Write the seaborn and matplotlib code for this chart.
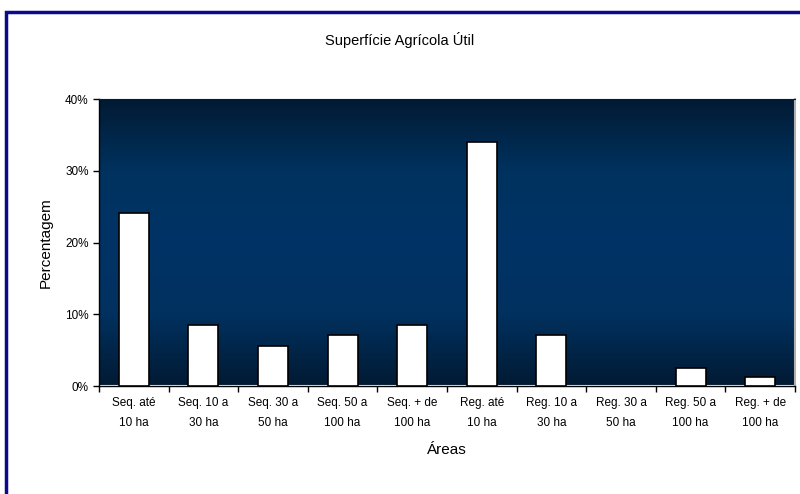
import matplotlib
matplotlib.use('Agg')
import matplotlib.pyplot as plt
import numpy as np
import pandas as pd
import seaborn as sns
from matplotlib.colors import LinearSegmentedColormap
from matplotlib.patches import Rectangle
from matplotlib.ticker import FixedLocator, PercentFormatter

areas = [
    'Seq. até\n10 ha', 'Seq. 10 a\n30 ha', 'Seq. 30 a\n50 ha', 'Seq. 50 a\n100 ha',
    'Seq. + de\n100 ha', 'Reg. até\n10 ha', 'Reg. 10 a\n30 ha', 'Reg. 30 a\n50 ha',
    'Reg. 50 a\n100 ha', 'Reg. + de\n100 ha',
]
percent = [24.1, 8.5, 5.6, 7.1, 8.5, 34.0, 7.1, 0.0, 2.5, 1.25]

df = pd.DataFrame({'area': areas, 'pct': percent})

sns.set_style('white')
plt.rcParams['font.family'] = ['Liberation Sans', 'DejaVu Sans']
plt.rcParams['text.color'] = 'black'
plt.rcParams['axes.labelcolor'] = 'black'
plt.rcParams['xtick.color'] = 'black'
plt.rcParams['ytick.color'] = 'black'

fig = plt.figure(figsize=(8, 4.94), dpi=100)
ax = fig.add_axes([99 / 800, 108 / 494, 696 / 800, 287 / 494])

# background gradient: dark at top and bottom, lighter blue in the middle
cmap = LinearSegmentedColormap.from_list(
    'bg', ['#021a33', '#00325f', '#003366', '#00315f', '#021a33'])
grad = np.linspace(0, 1, 256).reshape(-1, 1)
ax.imshow(grad, aspect='auto', cmap=cmap, extent=(-0.5, 9.5, 0, 40),
          origin='upper', zorder=0)

sns.barplot(data=df, x='area', y='pct', color='white', edgecolor='black',
            linewidth=1.2, width=0.43, saturation=1, ax=ax, zorder=3)
# a zero-height bar leaves no visible mark in the original
for patch, v in zip(ax.patches, percent):
    if v == 0:
        patch.set_visible(False)

ax.axhline(0, color='white', lw=1.5, zorder=2)
ax.set_xlim(-0.5, 9.5)
ax.set_ylim(0, 40)
ax.set_yticks([0, 10, 20, 30, 40])
ax.yaxis.set_major_formatter(PercentFormatter(decimals=0))
ax.xaxis.set_minor_locator(FixedLocator(np.arange(-0.5, 10, 1)))
ax.tick_params(axis='x', which='major', length=0, pad=8, labelsize=8.5)
ax.tick_params(axis='x', which='minor', length=4, width=1, direction='out', bottom=True)
ax.tick_params(axis='y', length=4, width=1, direction='out', left=True, labelsize=8.5)
for lbl in ax.get_xticklabels():
    lbl.set_linespacing(1.9)

for side in ['left', 'bottom']:
    ax.spines[side].set_color('black')
    ax.spines[side].set_linewidth(1)
ax.spines['top'].set_color('#021a33')
ax.spines['right'].set_color('#b0b0b0')
ax.spines['right'].set_linewidth(1.5)

ax.set_xlabel('Áreas', fontsize=11, labelpad=10)
ax.set_ylabel('Percentagem', fontsize=11, labelpad=9)
fig.text(0.5, 1 - 40 / 494, 'Superfície Agrícola Útil', ha='center', va='center', fontsize=10.5)

# outer chart frame (right and bottom edges fall outside the image)
fig.patches.append(Rectangle((6 / 800, -0.05), 1.0, 1 - 12 / 494 + 0.05,
                             transform=fig.transFigure, fill=False,
                             edgecolor='#0a0a8c', linewidth=2.5))

fig.savefig('out.png', dpi=100)
